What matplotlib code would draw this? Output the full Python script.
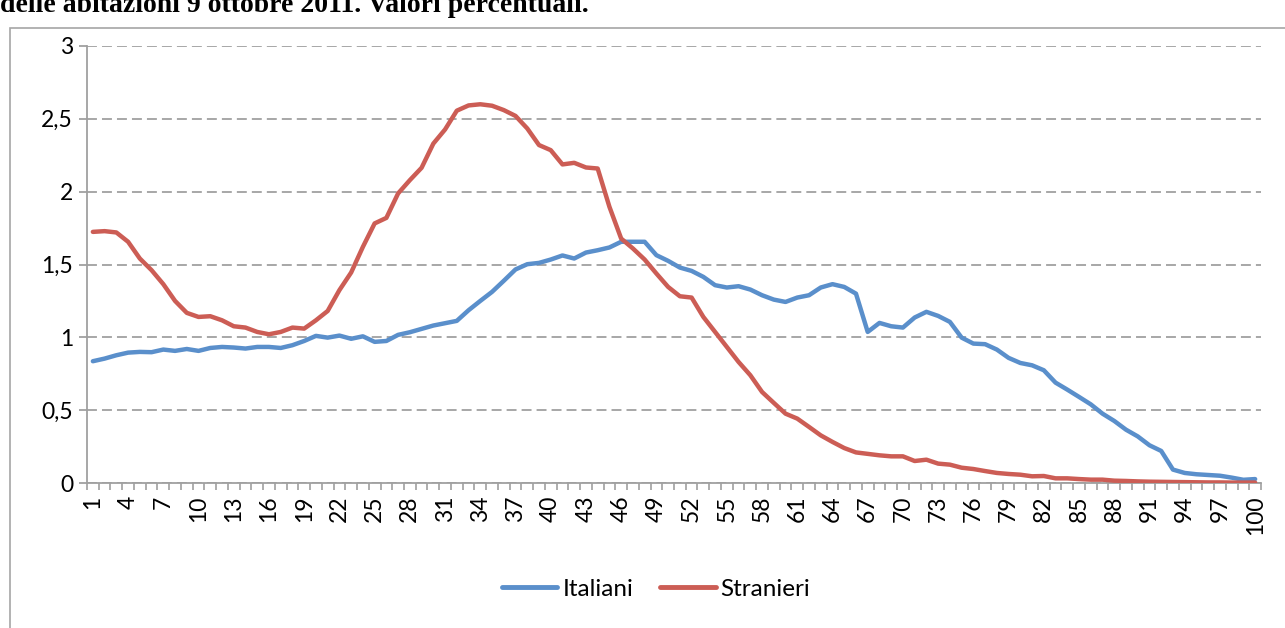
import matplotlib
matplotlib.use("Agg")
import matplotlib.pyplot as plt
from matplotlib.patches import Rectangle
from matplotlib.lines import Line2D
import numpy as np

# ---- data ----
ages = list(range(1, 101))
italiani = [0.836, 0.854, 0.877, 0.895, 0.900, 0.898, 0.916, 0.907, 0.920, 0.907,
            0.927, 0.934, 0.930, 0.923, 0.934, 0.934, 0.927, 0.946, 0.975, 1.010,
            0.998, 1.012, 0.990, 1.007, 0.969, 0.975, 1.017, 1.035, 1.058, 1.081,
            1.097, 1.113, 1.186, 1.250, 1.312, 1.388, 1.466, 1.502, 1.511, 1.534,
            1.562, 1.541, 1.582, 1.598, 1.617, 1.656, 1.656, 1.656, 1.564, 1.525,
            1.479, 1.456, 1.415, 1.358, 1.342, 1.351, 1.328, 1.289, 1.259, 1.243,
            1.273, 1.289, 1.342, 1.365, 1.346, 1.300, 1.037, 1.099, 1.076, 1.067,
            1.136, 1.175, 1.147, 1.106, 0.998, 0.957, 0.953, 0.916, 0.859, 0.824,
            0.808, 0.774, 0.689, 0.641, 0.591, 0.540, 0.476, 0.426, 0.366, 0.320,
            0.259, 0.220, 0.092, 0.069, 0.060, 0.055, 0.050, 0.037, 0.022, 0.027]
stranieri = [1.724, 1.729, 1.720, 1.656, 1.541, 1.461, 1.365, 1.250, 1.168, 1.140,
             1.145, 1.117, 1.076, 1.067, 1.037, 1.021, 1.037, 1.067, 1.060, 1.117,
             1.181, 1.324, 1.445, 1.621, 1.782, 1.820, 1.988, 2.079, 2.164, 2.330,
             2.427, 2.556, 2.592, 2.600, 2.590, 2.560, 2.520, 2.434, 2.320, 2.285,
             2.187, 2.198, 2.166, 2.159, 1.896, 1.678, 1.610, 1.534, 1.438, 1.346,
             1.282, 1.273, 1.140, 1.037, 0.934, 0.831, 0.740, 0.625, 0.550, 0.476,
             0.442, 0.385, 0.327, 0.282, 0.240, 0.210, 0.200, 0.190, 0.183, 0.183,
             0.151, 0.160, 0.133, 0.126, 0.105, 0.096, 0.082, 0.069, 0.062, 0.057,
             0.046, 0.048, 0.032, 0.032, 0.027, 0.023, 0.023, 0.016, 0.014, 0.011,
             0.009, 0.008, 0.007, 0.006, 0.005, 0.004, 0.004, 0.003, 0.003, 0.003]
series_names = ["Italiani", "Stranieri"]
yticks = [0, 0.5, 1, 1.5, 2, 2.5, 3]
ytick_labels = ["0", "0,5", "1", "1,5", "2", "2,5", "3"]
xtick_pos = list(range(1, 101, 3))
title = "delle abitazioni 9 ottobre 2011. Valori percentuali."

BLUE = "#5A8FCB"
RED = "#CC5D55"
GRID = "#A0A0A0"
FONT = "Lato"

W, H = 1285, 628
fig = plt.figure(figsize=(W / 100, H / 100), dpi=100)
fig.patch.set_facecolor("white")

# outer chart frame (partially cropped)
fig.add_artist(Rectangle((10 / W, -0.1), 1.2, 1 - 28 / H + 0.1,
                         transform=fig.transFigure, fill=False,
                         edgecolor="#A6A6A6", linewidth=1.2, clip_on=False))

# caption at top (cropped in the source image)
fig.text(0 / W, 1 - 12 / H, title, family="Liberation Serif", weight="bold",
         fontsize=20, ha="left", va="baseline", color="black")

ax = fig.add_axes([87 / W, 1 - 483 / H, (1261 - 87) / W, (483 - 46) / H])
ax.plot(ages, italiani, color=BLUE, lw=3.2, solid_joinstyle="round",
        solid_capstyle="round", label=series_names[0], zorder=3)
ax.plot(ages, stranieri, color=RED, lw=3.2, solid_joinstyle="round",
        solid_capstyle="round", label=series_names[1], zorder=3)

ax.set_xlim(0.5, 100.5)
ax.set_ylim(0, 3)

for s in ["top", "right"]:
    ax.spines[s].set_visible(False)
for s in ["left", "bottom"]:
    ax.spines[s].set_color(GRID)
    ax.spines[s].set_linewidth(1.3)

ax.set_yticks(yticks)
ax.set_yticklabels(ytick_labels, family=FONT, fontsize=16.5)
ax.tick_params(axis="y", length=6, width=1.3, color=GRID, pad=4)
ax.yaxis.grid(True, color=GRID, linewidth=1.3, linestyle=(0, (5.5, 2.8)))
ax.set_axisbelow(True)

ax.set_xticks(xtick_pos)
ax.set_xticklabels([str(v) for v in xtick_pos], rotation=90, family=FONT,
                   fontsize=16.5, va="top", ha="center")
ax.set_xticks(np.arange(0.5, 101, 1), minor=True)
ax.tick_params(axis="x", which="major", length=0, pad=9)
ax.tick_params(axis="x", which="minor", length=5, width=1.2, color=GRID)

handles = [Line2D([], [], color=BLUE, lw=3.5, solid_capstyle="round"),
           Line2D([], [], color=RED, lw=3.5, solid_capstyle="round")]
fig.legend(handles, series_names, loc="center",
           bbox_to_anchor=(656 / W, 1 - 589 / H), ncol=2, frameon=False,
           prop={"family": FONT, "size": 17.5}, handlelength=2.3,
           handletextpad=0.2, columnspacing=1.1, borderpad=0)

fig.savefig("out.png", dpi=100, facecolor="white")
